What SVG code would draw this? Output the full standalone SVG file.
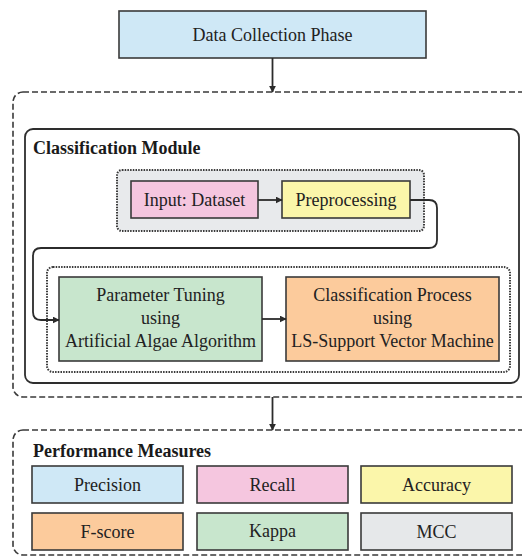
<svg xmlns="http://www.w3.org/2000/svg" width="522" height="557" viewBox="0 0 522 557">
  <defs>
    <marker id="arrow" viewBox="0 0 10 10" refX="9" refY="5" markerWidth="7" markerHeight="7" markerUnits="userSpaceOnUse" orient="auto">
      <path d="M0,0 L10,5 L0,10 z" fill="#2b2b2b"/>
    </marker>
    <style>
      .box { stroke: #3a3a3a; stroke-width: 1.6; }
      .dash { fill: none; stroke: #3a3a3a; stroke-width: 1.6; stroke-dasharray: 6 3; }
      .dot { stroke: #3a3a3a; stroke-width: 2; stroke-dasharray: 1.5 1.2; }
      .solid { fill: #ffffff; stroke: #2e2e2e; stroke-width: 1.8; }
      text { font-family: 'Liberation Serif', 'Times New Roman', 'DejaVu Serif', serif; }
      .lbl { font-size: 18px; fill: #222; text-anchor: middle; }
      .title { font-size: 18px; font-weight: bold; fill: #1a1a1a; }
      .conn { fill: none; stroke: #2b2b2b; stroke-width: 1.8; }
      .blue { fill: #cfe8f6; }
      .pink { fill: #f5c6df; }
      .yellow { fill: #fbf6aa; }
      .orange { fill: #fccb9c; }
      .green { fill: #c8e6cd; }
      .grey { fill: #e6e8ea; }
    </style>
  </defs>
  <rect width="522" height="557" fill="#ffffff"/>

  <!-- data collection -->
  <g id="data-collection">
    <rect class="box blue" x="119" y="11" width="307" height="47"/>
    <text class="lbl" x="272.5" y="41" font-family="Liberation Serif, serif">Data Collection Phase</text>
  </g>

  <!-- outer dashed frame around the classification stage -->
  <g id="classification-frame">
    <rect class="dash" x="13" y="92" width="530" height="305" rx="10"/>
  </g>

  <!-- classification module -->
  <g id="classification-module">
    <rect class="solid" x="25" y="129" width="494" height="254" rx="8"/>
    <text class="title" x="33" y="154">Classification Module</text>
  </g>

  <!-- dotted group: input + preprocessing -->
  <g id="input-group">
    <rect class="dot" x="117" y="170" width="307" height="61" rx="5" fill="#e8eaec"/>
  </g>
  <g id="input-dataset">
    <rect class="box pink" x="131" y="181" width="127" height="37"/>
    <text class="lbl" x="194.5" y="206">Input: Dataset</text>
  </g>
  <g id="preprocessing">
    <rect class="box yellow" x="282" y="181" width="128" height="37"/>
    <text class="lbl" x="346" y="206">Preprocessing</text>
  </g>

  <!-- dotted group: tuning + classification -->
  <g id="model-group">
    <rect class="dot" x="47" y="267" width="463" height="105" rx="6" fill="#ffffff"/>
  </g>
  <g id="parameter-tuning">
    <rect class="box green" x="59" y="277" width="203" height="84"/>
    <text class="lbl" x="160.5" y="301">Parameter Tuning</text>
    <text class="lbl" x="160.5" y="324">using</text>
    <text class="lbl" x="160.5" y="347">Artificial Algae Algorithm</text>
  </g>
  <g id="classification-process">
    <rect class="box orange" x="286" y="277" width="213" height="84"/>
    <text class="lbl" x="392.5" y="301">Classification Process</text>
    <text class="lbl" x="392.5" y="324">using</text>
    <text class="lbl" x="392.5" y="347">LS-Support Vector Machine</text>
  </g>

  <!-- performance measures frame -->
  <g id="performance-frame">
    <rect class="dash" x="13" y="430" width="530" height="125" rx="10"/>
    <text class="title" x="33" y="457">Performance Measures</text>
  </g>
  <g id="precision">
    <rect class="box blue" x="32" y="466" width="151" height="37"/>
    <text class="lbl" x="107.5" y="491">Precision</text>
  </g>
  <g id="recall">
    <rect class="box pink" x="197" y="466" width="151" height="37"/>
    <text class="lbl" x="272.5" y="491">Recall</text>
  </g>
  <g id="accuracy">
    <rect class="box yellow" x="361" y="466" width="151" height="37"/>
    <text class="lbl" x="436.5" y="491">Accuracy</text>
  </g>
  <g id="f-score">
    <rect class="box orange" x="32" y="513" width="151" height="37"/>
    <text class="lbl" x="107.5" y="538">F-score</text>
  </g>
  <g id="kappa">
    <rect class="box green" x="197" y="513" width="151" height="37"/>
    <text class="lbl" x="272.5" y="537">Kappa</text>
  </g>
  <g id="mcc">
    <rect class="box grey" x="361" y="513" width="151" height="37"/>
    <text class="lbl" x="436.5" y="538">MCC</text>
  </g>

  <!-- connectors -->
  <g id="connectors">
    <path class="conn" d="M272.5,58 V92" marker-end="url(#arrow)"/>
    <path class="conn" d="M258,200 H282" marker-end="url(#arrow)"/>
    <path class="conn" d="M410,200 H429 Q437,200 437,208 V240 Q437,248 429,248 H41 Q33,248 33,256 V312 Q33,320 41,320 H59" marker-end="url(#arrow)"/>
    <path class="conn" d="M262,319 H286" marker-end="url(#arrow)"/>
    <path class="conn" d="M272.5,397 V430" marker-end="url(#arrow)"/>
  </g>
</svg>
